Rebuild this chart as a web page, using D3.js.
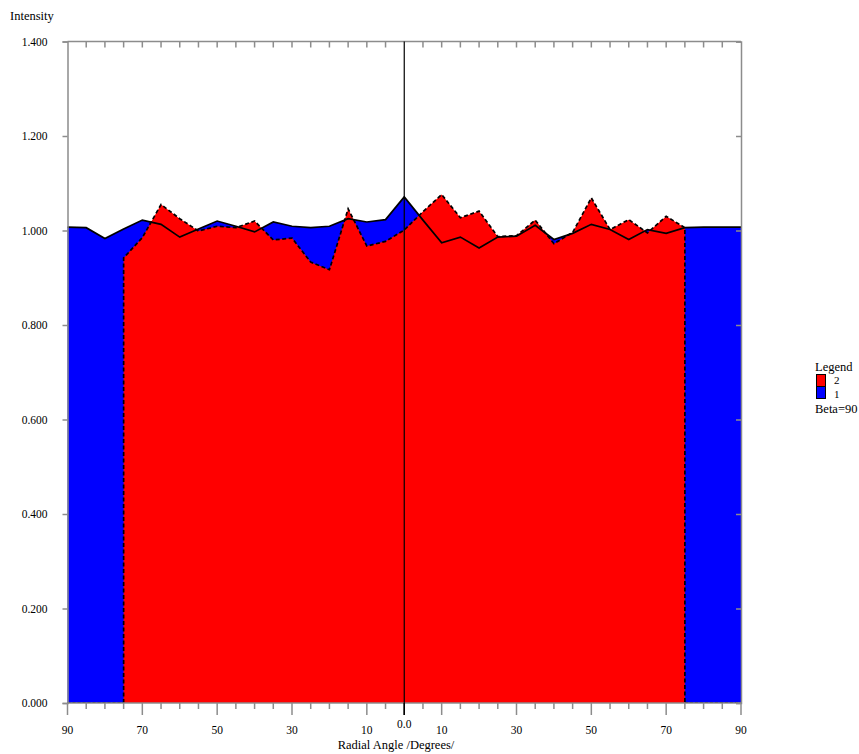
<!DOCTYPE html>
<html>
<head>
<meta charset="utf-8">
<script src="https://cdn.jsdelivr.net/npm/d3@7"></script>
<style>
body{margin:0;background:#fff;}
svg text{font-family:"Liberation Serif","Times New Roman",serif;font-size:11px;fill:#000;}
svg text.big{font-size:12.5px;}
</style>
</head>
<body>
<svg id="chart" width="859" height="754"></svg>
<script>
// Series 1 (blue, solid outline): angle -> intensity
const angles1 = [-90,-85,-80,-75,-70,-65,-60,-55,-50,-45,-40,-35,-30,-25,-20,-15,-10,-5,0,5,10,15,20,25,30,35,40,45,50,55,60,65,70,75,80,85,90];
const values1 = [1.007,1.006,0.983,1.003,1.022,1.013,0.986,1.003,1.020,1.009,0.997,1.018,1.009,1.006,1.009,1.025,1.018,1.023,1.071,1.022,0.974,0.986,0.963,0.986,0.988,1.011,0.981,0.994,1.013,1.002,0.981,1.002,0.994,1.006,1.007,1.007,1.007];
// Series 2 (red, dashed outline)
const angles2 = [-75,-70,-65,-60,-55,-50,-45,-40,-35,-30,-25,-20,-15,-10,-5,0,5,10,15,20,25,30,35,40,45,50,55,60,65,70,75];
const values2 = [0.942,0.985,1.055,1.025,0.999,1.009,1.006,1.020,0.980,0.984,0.933,0.917,1.046,0.967,0.977,1.001,1.040,1.076,1.027,1.041,0.987,0.989,1.022,0.972,0.996,1.069,1.002,1.023,0.995,1.030,1.006];
const seriesNames = ["2","1"];
const seriesColors = ["#ff0000","#0000ff"];
const xMajorTicks = [-90,-70,-50,-30,-10,0,10,30,50,70,90];
const yTicks = [0,0.2,0.4,0.6,0.8,1.0,1.2,1.4];
const legendTitle = "Legend";
const legendNote = "Beta=90";
const yTitle = "Intensity";
const xTitle = "Radial Angle  /Degrees/";

const svg = d3.select("#chart");
const x = d3.scaleLinear().domain([-90,90]).range([67.5,741]);
const y = d3.scaleLinear().domain([0,1.4]).range([703,41.5]);

const d1 = angles1.map((a,i)=>({a, v:values1[i]}));
const d2 = angles2.map((a,i)=>({a, v:values2[i]}));

const area = d3.area().x(d=>x(d.a)).y0(y(0)).y1(d=>y(d.v));
const line = d3.line().x(d=>x(d.a)).y(d=>y(d.v));

// fills
svg.append("path").attr("d", area(d1)).attr("fill", seriesColors[1]);
svg.append("path").attr("d", area(d2)).attr("fill", seriesColors[0]);

// dashed baseline in the blue-only regions
svg.append("line").attr("x1", x(-90)).attr("x2", x(-75)).attr("y1", y(0)-0.5).attr("y2", y(0)-0.5)
  .attr("stroke","#000").attr("stroke-width",1.2).attr("stroke-dasharray","3,2");
svg.append("line").attr("x1", x(75)).attr("x2", x(90)).attr("y1", y(0)-0.5).attr("y2", y(0)-0.5)
  .attr("stroke","#000").attr("stroke-width",1.2).attr("stroke-dasharray","3,2");

// red dashed outline including vertical edges
const outline2 = [{a:angles2[0], v:0}].concat(d2, [{a:angles2[angles2.length-1], v:0}]);
svg.append("path").attr("d", line(outline2)).attr("fill","none")
  .attr("stroke","#000").attr("stroke-width",1.7).attr("stroke-dasharray","4,2.5");
// blue solid outline
svg.append("path").attr("d", line(d1)).attr("fill","none")
  .attr("stroke","#000").attr("stroke-width",1.7);

// axes frame
const axisCol = "#8c8c8c";
const g = svg.append("g");
// left axis
const yAxis = d3.axisLeft(y).tickValues(yTicks).tickFormat(d3.format(".3f")).tickSize(5).tickPadding(15);
const ya = g.append("g").attr("transform",`translate(${x(-90)},0)`).call(yAxis);
ya.select(".domain").attr("stroke",axisCol).attr("stroke-width",1.5);
ya.selectAll(".tick line").attr("stroke",axisCol).attr("stroke-width",1.5);
ya.selectAll("text").style("font-family",'"Liberation Serif",serif').style("font-size","11.5px").attr("fill","#000");
// right axis ticks inward
const yr = g.append("g").attr("transform",`translate(${x(90)},0)`).call(d3.axisLeft(y).tickValues(yTicks).tickSize(5).tickFormat(""));
yr.select(".domain").attr("stroke",axisCol).attr("stroke-width",1.5);
yr.selectAll(".tick line").attr("stroke",axisCol).attr("stroke-width",1.5);

// bottom axis: minor and major ticks
const minor = d3.range(-90,91,5);
const xb = g.append("g").attr("transform",`translate(0,${y(0)})`);
xb.append("line").attr("x1",x(-90)).attr("x2",x(90)).attr("stroke",axisCol).attr("stroke-width",1.5);
xb.selectAll("line.minor").data(minor).enter().append("line").attr("class","minor")
  .attr("x1",d=>x(d)).attr("x2",d=>x(d)).attr("y1",0)
  .attr("y2",d=>xMajorTicks.includes(d)?12:6)
  .attr("stroke",d=>d===0?"#000":axisCol).attr("stroke-width",1.5);
xb.selectAll("text").data(xMajorTicks).enter().append("text")
  .attr("x",d=>x(d)).attr("y",d=>d===0?25:31).attr("text-anchor","middle")
  .style("font-size","11.5px")
  .text(d=>d===0?"0.0":String(Math.abs(d)));

// top axis ticks
const xt = g.append("g").attr("transform",`translate(0,${y(1.4)})`);
xt.append("line").attr("x1",x(-90)).attr("x2",x(90)).attr("stroke",axisCol).attr("stroke-width",1.5);
xt.selectAll("line.tt").data(minor.filter(d=>d!==0 && Math.abs(d)!==90)).enter().append("line").attr("class","tt")
  .attr("x1",d=>x(d)).attr("x2",d=>x(d)).attr("y1",0).attr("y2",6)
  .attr("stroke",axisCol).attr("stroke-width",1.5);

// zero line
svg.append("line").attr("x1",x(0)).attr("x2",x(0)).attr("y1",y(1.4)).attr("y2",y(0)+12)
  .attr("stroke","#000").attr("stroke-width",1.2);

// titles
svg.append("text").attr("class","big").attr("x",10).attr("y",20).text(yTitle);
svg.append("text").attr("class","big").attr("x",396).attr("y",749).attr("text-anchor","middle").text(xTitle);

// legend
const lg = svg.append("g");
lg.append("text").attr("class","big").attr("x",815).attr("y",371).text(legendTitle);
seriesNames.forEach((n,i)=>{
  lg.append("rect").attr("x",816.5).attr("y",374.5+i*12).attr("width",9).attr("height",12)
    .attr("fill",seriesColors[i]).attr("stroke","#000").attr("stroke-width",1);
  lg.append("text").attr("x",834).attr("y",384+i*14).style("font-size","11px").text(n);
});
lg.append("text").attr("class","big").attr("x",815).attr("y",413).text(legendNote);
</script>
</body>
</html>
